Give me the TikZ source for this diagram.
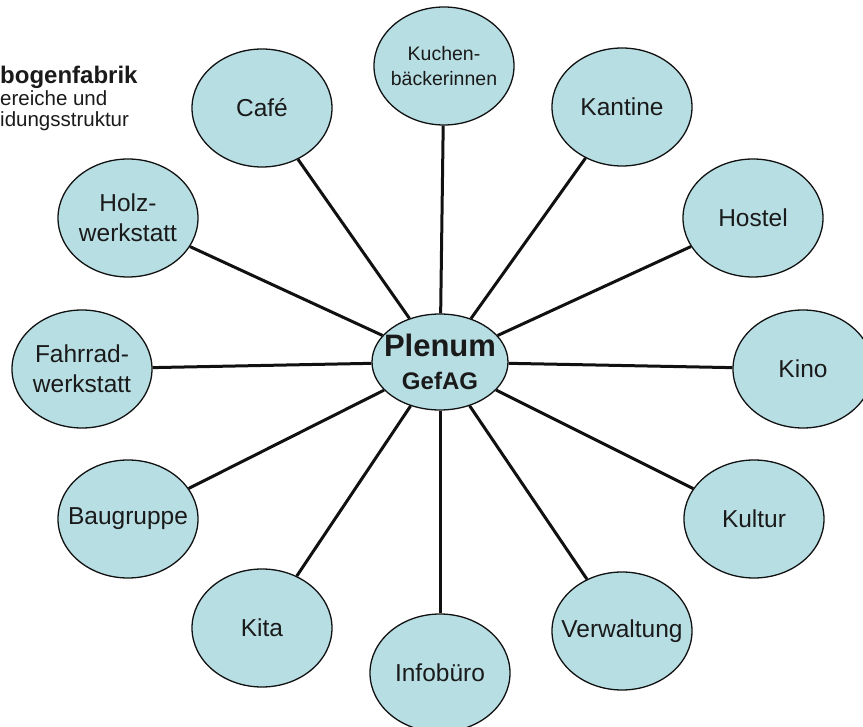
\documentclass[tikz,border=0pt]{standalone}
\usepackage{fontspec}
\setmainfont{Liberation Sans}
\usepackage{xcolor}
\usepackage{tikz}
\usetikzlibrary{
  positioning,
  shapes.geometric
}
\definecolor{FigText}{HTML}{1A1A1A}
\definecolor{FigBubble}{HTML}{B7DEE3}
\definecolor{FigLine}{HTML}{111111}

\begin{document}
\begin{tikzpicture}[
x=1pt, y=-1pt,
area/.style={
ellipse,
draw=FigLine,
line width=1.3pt,
fill=FigBubble,
minimum width=140pt,
minimum height=118pt,
inner xsep=-18pt,
inner ysep=0pt,
align=center,
font=\fontsize{24.5}{30}\selectfont
},
hub/.style={
area,
minimum width=136pt,
minimum height=96pt,
font=\bfseries\fontsize{24}{33}\selectfont
},
spoke/.style={draw=FigLine, line width=3pt},
every node/.style={text=FigText}
]
\useasboundingbox (0,0) rectangle (863,727);

% Title (cut at the left edge)
\node[anchor=base west, inner sep=0pt, align=left,
      font=\fontsize{20.5}{21.5}\selectfont] (title) at (0,127) {
{\bfseries\fontsize{24}{21.5}\selectfont bogenfabrik}\\
ereiche und\\
idungsstruktur
};

% Centre
\node[hub] (plenum) at (440,362) {
{\fontsize{31}{33}\selectfont Plenum}\\
GefAG
};

% Areas around the plenum
\node[area, font=\fontsize{19.5}{25}\selectfont] (kuchen) at (444,66) {Kuchen-\\b\"ackerinnen};
\node[area] (kantine) at (622,107) {Kantine};
\node[area] (hostel) at (753,218) {Hostel};
\node[area] (kino) at (803,369) {Kino};
\node[area] (kultur) at (754,519) {Kultur};
\node[area] (verwaltung) at (622,631) {Verwaltung};
\node[area] (infobuero) at (440,673) {Infob\"uro};
\node[area] (kita) at (262,628) {Kita};
\node[area] (baugruppe) at (128,519) {Baugruppe};
\node[area] (fahrrad) at (82,369) {Fahrrad-\\werkstatt};
\node[area] (holz) at (128,218) {Holz-\\werkstatt};
\node[area] (cafe) at (262,108) {Caf\'e};

% Spokes
\draw[spoke] (plenum) -- (kuchen);
\draw[spoke] (plenum) -- (kantine);
\draw[spoke] (plenum) -- (hostel);
\draw[spoke] (plenum) -- (kino);
\draw[spoke] (plenum) -- (kultur);
\draw[spoke] (plenum) -- (verwaltung);
\draw[spoke] (plenum) -- (infobuero);
\draw[spoke] (plenum) -- (kita);
\draw[spoke] (plenum) -- (baugruppe);
\draw[spoke] (plenum) -- (fahrrad);
\draw[spoke] (plenum) -- (holz);
\draw[spoke] (plenum) -- (cafe);

\end{tikzpicture}
\end{document}
